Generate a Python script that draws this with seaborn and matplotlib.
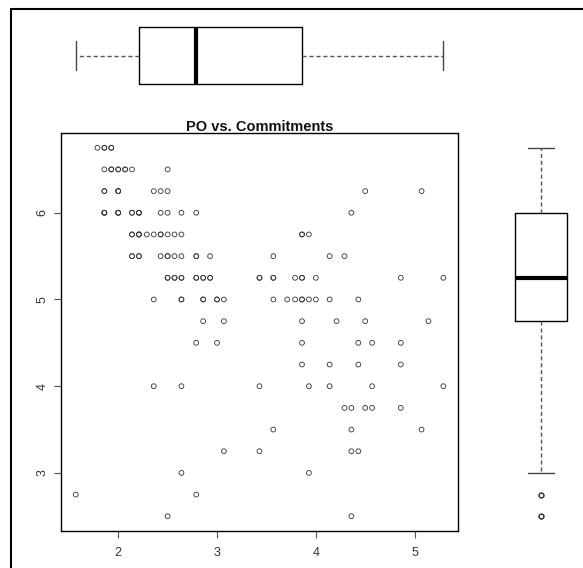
import pandas as pd
import numpy as np
import matplotlib
matplotlib.use("Agg")
import matplotlib.pyplot as plt
import seaborn as sns

# PO score levels (y) and the Commitments scores (x) found on each level.
# Repeated values are points that sit on top of each other in the scatter.
po_levels = [6.75, 6.5, 6.25, 6.0, 5.75, 5.5, 5.25, 5.0, 4.75,
             4.5, 4.25, 4.0, 3.75, 3.5, 3.25, 3.0, 2.75, 2.5]
commitments_rows = [
    [1.79, 1.86, 1.86, 1.93, 1.93],
    [1.86, 1.93, 1.93, 2.00, 2.00, 2.07, 2.07, 2.14, 2.50],
    [1.86, 1.86, 2.00, 2.00, 2.00, 2.36, 2.43, 2.50, 4.50, 5.07],
    [1.86, 1.86, 1.86, 2.00, 2.00, 2.00, 2.14, 2.14, 2.21, 2.21, 2.21,
     2.43, 2.50, 2.64, 2.79, 4.36],
    [2.14, 2.14, 2.21, 2.21, 2.21, 2.29, 2.36, 2.43, 2.43, 2.50, 2.57,
     2.64, 3.86, 3.86, 3.93],
    [2.14, 2.14, 2.21, 2.21, 2.43, 2.50, 2.50, 2.57, 2.64, 2.79, 2.79,
     2.93, 3.57, 4.14, 4.29],
    [2.50, 2.50, 2.57, 2.57, 2.64, 2.64, 2.79, 2.79, 2.86, 2.86, 2.93,
     2.93, 3.43, 3.43, 3.57, 3.57, 3.79, 3.86, 3.86, 4.00, 4.86, 5.29],
    [2.36, 2.64, 2.64, 2.86, 2.86, 3.00, 3.00, 3.07, 3.57, 3.71, 3.79,
     3.86, 3.86, 3.93, 4.00, 4.14, 4.43],
    [2.86, 3.07, 3.86, 4.21, 4.50, 5.14],
    [2.79, 3.00, 3.86, 4.43, 4.57, 4.86],
    [3.86, 4.14, 4.43, 4.86],
    [2.36, 2.64, 3.43, 3.93, 4.14, 4.57, 5.29],
    [4.29, 4.36, 4.50, 4.57, 4.86],
    [3.57, 4.36, 5.07],
    [3.07, 3.43, 4.36, 4.43],
    [2.64, 3.93],
    [1.57, 2.79],
    [2.50, 4.36],
]
x_ticks = [2, 3, 4, 5]
y_ticks = [3, 4, 5, 6]

rows = []
for level, xs in zip(po_levels, commitments_rows):
    for v in xs:
        rows.append({"commitments": v, "po": level})
df = pd.DataFrame(rows)

sns.set_style("white")
plt.rcParams["font.family"] = ["Liberation Sans", "DejaVu Sans"]

W, H = 583, 568
fig = plt.figure(figsize=(W / 100, H / 100), dpi=100)
fig.patch.set_facecolor("white")


def px_axes(left, top, right, bottom):
    return fig.add_axes([left / W, 1 - bottom / H, (right - left) / W, (bottom - top) / H])


# R style 4% range extension
def ext(s):
    lo, hi = s.min(), s.max()
    pad = 0.04 * (hi - lo)
    return lo - pad, hi + pad


xlim = ext(df["commitments"])
ylim = ext(df["po"])

# main scatter
ax = px_axes(61, 133, 458, 531)
sns.scatterplot(data=df, x="commitments", y="po", ax=ax, marker="o", s=12,
                facecolors="none", edgecolor="#333333", linewidth=0.6)
ax.set_xlim(xlim)
ax.set_ylim(ylim)
ax.set_xticks(x_ticks)
ax.set_yticks(y_ticks)
ax.set_xlabel("")
ax.set_ylabel("")
for sp in ax.spines.values():
    sp.set_color("black")
    sp.set_linewidth(1)
ax.tick_params(axis="both", direction="out", length=5, width=0.8, color="#555555",
               labelsize=9, labelcolor="#333333", bottom=True, left=True)
ax.tick_params(axis="x", pad=6.5)
ax.tick_params(axis="y", pad=4, labelrotation=90)
for lab in ax.get_yticklabels():
    lab.set_va("center")
ax.set_title("PO vs. Commitments", fontsize=10.5, fontweight="bold", pad=1.5,
             color="#111111")

box_kw = dict(width=0.8, fill=False, color="black", linecolor="black", linewidth=1,
              whis=1.5,
              boxprops=dict(color="black", linewidth=1),
              medianprops=dict(linewidth=3, color="black"),
              whiskerprops=dict(linestyle=(0, (3, 2)), color="#555555", linewidth=1),
              capprops=dict(color="#444444", linewidth=1),
              flierprops=dict(marker="o", markerfacecolor="none",
                              markeredgecolor="#333333", markersize=3.5,
                              markeredgewidth=0.8))

# top boxplot (Commitments)
ax_top = px_axes(61, 20, 458, 91)
sns.boxplot(data=df, x="commitments", orient="h", ax=ax_top, **box_kw)
ax_top.set_xlim(xlim)
ax_top.set_ylim(0.5, -0.5)
ax_top.axis("off")

# right boxplot (PO)
ax_right = px_axes(509, 133, 573, 531)
sns.boxplot(data=df, y="po", orient="v", ax=ax_right, **box_kw)
ax_right.set_ylim(ylim)
ax_right.set_xlim(-0.5, 0.5)
ax_right.axis("off")

# outer frame (left and top edges)
fig.add_artist(plt.Line2D([11 / W, 11 / W], [0, 1 - 9 / H], transform=fig.transFigure,
                          color="black", linewidth=1.5))
fig.add_artist(plt.Line2D([11 / W, 1], [1 - 9 / H, 1 - 9 / H], transform=fig.transFigure,
                          color="black", linewidth=1.5))

fig.savefig("out.png", dpi=100)
